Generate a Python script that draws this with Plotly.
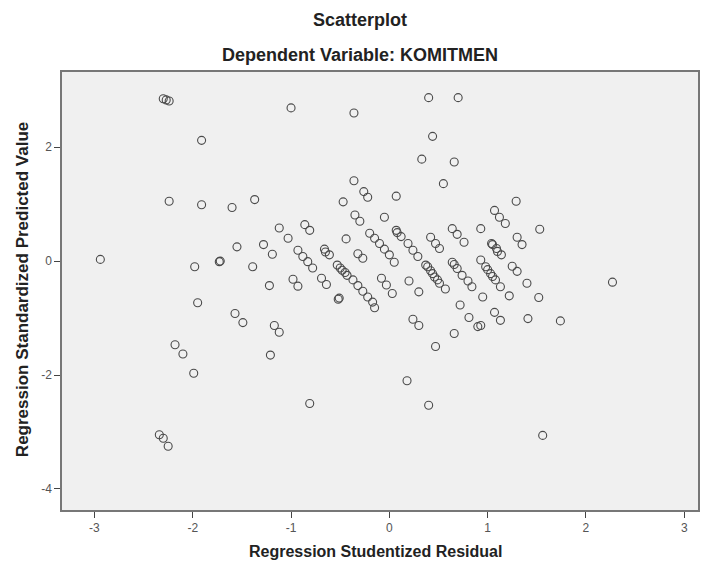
import plotly.graph_objects as go

# Regression Studentized Residual (x) and Regression Standardized Predicted Value (y)
resid = [
    -2.94, -2.30, -2.27, -2.24, -1.91, -2.24, -1.91, -1.60, -1.37,
    -1.00, -0.36, 0.40, 0.70, 0.44, 0.33, 0.66, 0.55, -0.36, -0.26, -0.22, 0.07, -0.47, 1.29,
    -1.98, -1.73, -1.72, -1.55, -1.28, -1.19, -1.39, -1.12, -1.22, -1.95, -1.57, -1.49, -1.17, -1.12,
    -2.18, -2.10, -1.21, -1.99, -2.34, -2.30, -2.25,
    -0.81, 0.18, 0.40, 0.47, 1.56,
    2.27, 1.74, 1.41, 1.52, 1.40, 1.53, 1.30, 1.35, 1.25, 1.30,
    1.07, 1.12, 1.18, 0.93,
    1.04, 1.09, 1.14, 1.05, 1.10,
    0.93, 0.98, 1.03, 1.08, 1.13, 1.22, 1.00, 1.05,
    0.95, 1.07, 1.13, 0.93,
    -1.03, -0.93, -0.88, -0.83, -0.78, -0.86, -0.81, -0.98, -0.93, -0.69, -0.64,
    -0.66, -0.61, -0.65, -0.44,
    -0.53, -0.48, -0.43, -0.37, -0.32, -0.27, -0.22, -0.17, -0.15, -0.50, -0.45,
    -0.52, -0.51,
    -0.35, -0.30, -0.05,
    -0.20, -0.15, -0.10, -0.05, 0.00, 0.05,
    -0.32, -0.27, -0.08, -0.03, 0.03,
    0.07, 0.12, 0.08, 0.19, 0.24, 0.29, 0.20, 0.30, 0.24, 0.30,
    0.42, 0.47, 0.51,
    0.37, 0.42, 0.46, 0.51, 0.57, 0.39, 0.44, 0.49,
    0.64, 0.69, 0.76,
    0.64, 0.69, 0.74, 0.80, 0.84, 0.66,
    0.72, 0.81, 0.90, 0.66,
]
predicted = [
    0.03, 2.85, 2.83, 2.81, 2.12, 1.05, 0.99, 0.94, 1.08,
    2.69, 2.60, 2.87, 2.87, 2.19, 1.79, 1.74, 1.36, 1.41, 1.22, 1.12, 1.14, 1.04, 1.05,
    -0.10, -0.01, 0.00, 0.25, 0.29, 0.12, -0.10, 0.58, -0.43, -0.73, -0.92, -1.08, -1.13, -1.25,
    -1.47, -1.63, -1.65, -1.97, -3.05, -3.11, -3.25,
    -2.50, -2.10, -2.53, -1.50, -3.06,
    -0.37, -1.05, -1.01, -0.64, -0.39, 0.56, 0.42, 0.29, -0.09, -0.18,
    0.89, 0.77, 0.66, 0.57,
    0.31, 0.22, 0.11, 0.29, 0.17,
    0.02, -0.10, -0.22, -0.33, -0.45, -0.61, -0.15, -0.27,
    -0.63, -0.90, -1.04, -1.13,
    0.40, 0.19, 0.08, -0.01, -0.12, 0.64, 0.54, -0.32, -0.44, -0.30, -0.41,
    0.21, 0.11, 0.16, 0.39,
    -0.07, -0.16, -0.25, -0.33, -0.43, -0.53, -0.63, -0.72, -0.82, -0.12, -0.20,
    -0.67, -0.65,
    0.81, 0.70, 0.77,
    0.49, 0.40, 0.31, 0.21, 0.11, -0.02,
    0.13, 0.05, -0.30, -0.42, -0.57,
    0.54, 0.43, 0.50, 0.31, 0.19, 0.08, -0.35, -0.54, -1.02, -1.13,
    0.42, 0.31, 0.22,
    -0.07, -0.17, -0.28, -0.39, -0.49, -0.10, -0.22, -0.33,
    0.57, 0.47, 0.33,
    -0.02, -0.13, -0.25, -0.35, -0.45, -0.06,
    -0.77, -0.99, -1.15, -1.27,
]

x_ticks = [-3, -2, -1, 0, 1, 2, 3]
y_ticks = [-4, -2, 0, 2]

FONT = "Liberation Sans, Arial, sans-serif"

# page offset of 8px (default body margin) is compensated in the margins
PLOT_TOP, PLOT_BOTTOM, PLOT_LEFT, PLOT_RIGHT = 72, 510, 62, 700
PH = PLOT_BOTTOM - PLOT_TOP
PW = PLOT_RIGHT - PLOT_LEFT

fig = go.Figure(
    go.Scatter(
        x=resid, y=predicted, mode="markers",
        marker=dict(symbol="circle-open", size=8, color="#4a4a4a", line=dict(width=1.1)),
        hoverinfo="skip",
    )
)

fig.update_layout(
    width=700, height=559,
    margin=dict(l=54, r=8, t=64, b=57),
    paper_bgcolor="white",
    plot_bgcolor="#f0f0f0",
    showlegend=False,
    font=dict(family=FONT, color="#333333"),
    annotations=[
        dict(text="<b>Scatterplot</b>", xref="paper", yref="paper", x=(361 - PLOT_LEFT) / PW,
             y=1.0 + (PLOT_TOP - 20) / PH, xanchor="center", yanchor="middle", showarrow=False,
             font=dict(size=18, color="#222")),
        dict(text="<b>Dependent Variable: KOMITMEN</b>", xref="paper", yref="paper",
             x=(361 - PLOT_LEFT) / PW, y=1.0 + (PLOT_TOP - 55) / PH, xanchor="center",
             yanchor="middle", showarrow=False, font=dict(size=18, color="#222")),
        dict(text="<b>Regression Studentized Residual</b>", xref="paper", yref="paper",
             x=(376 - PLOT_LEFT) / PW, y=-(551 - PLOT_BOTTOM) / PH, xanchor="center",
             yanchor="middle", showarrow=False, font=dict(size=16, color="#222")),
        dict(text="<b>Regression Standardized Predicted Value</b>", xref="paper", yref="paper",
             x=-(PLOT_LEFT - 22) / PW, y=(PLOT_BOTTOM - 290) / PH, xanchor="center",
             yanchor="middle", textangle=-90, showarrow=False, font=dict(size=17, color="#222")),
    ],
)

fig.update_xaxes(
    range=[-3.33, 3.14], tickvals=x_ticks, ticktext=[str(v) for v in x_ticks],
    showgrid=False, zeroline=False, ticks="outside", ticklen=6, tickcolor="#444",
    showline=True, linecolor="#777", linewidth=1.5, mirror=True,
    tickfont=dict(size=12, color="#555"),
)
fig.update_yaxes(
    range=[-4.37, 3.32], tickvals=y_ticks, ticktext=[str(v) for v in y_ticks],
    showgrid=False, zeroline=False, ticks="outside", ticklen=6, tickcolor="#444",
    showline=True, linecolor="#777", linewidth=1.5, mirror=True,
    tickfont=dict(size=12, color="#555"),
)

fig.write_html("out.html")
